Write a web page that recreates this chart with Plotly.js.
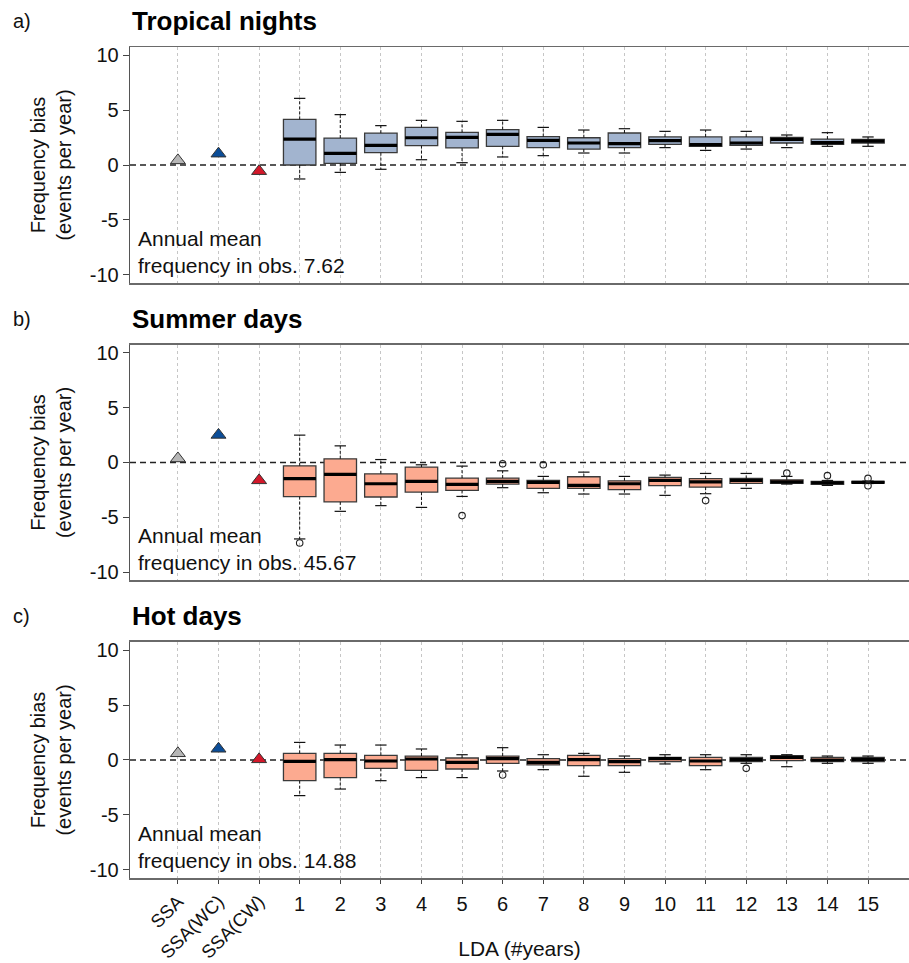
<!DOCTYPE html>
<html>
<head>
<meta charset="utf-8">
<script src="https://cdn.plot.ly/plotly-3.0.1.min.js"></script>
<style>html,body{margin:0;padding:0;background:#fff;}#chart{width:909px;height:963px;}</style>
</head>
<body>
<div id="chart"></div>
<script>
// ---------------- data ----------------
const refLabels = ['SSA', 'SSA(WC)', 'SSA(CW)'];
const ldaLabels = ['1','2','3','4','5','6','7','8','9','10','11','12','13','14','15'];
const panelLetters = ['a)', 'b)', 'c)'];
const panelTitles = ['Tropical nights', 'Summer days', 'Hot days'];
const obsMeans = ['7.62', '45.67', '14.88'];

// reference (SSA, SSA(WC), SSA(CW)) frequency bias
const tnRef = [0.42, 1.03, -0.56];
const sdRef = [0.37, 2.52, -1.63];
const hdRef = [0.61, 1.02, 0.06];

// Tropical nights – LDA box statistics
const tnLow  = [-1.27,-0.67,-0.39,0.48,0.21,0.73,0.85,1.09,1.09,1.58,1.33,1.45,1.58,1.70,1.70];
const tnQ1   = [0.00,0.15,1.12,1.76,1.55,1.70,1.58,1.45,1.58,1.88,1.70,1.79,2.00,1.88,2.00];
const tnMed  = [2.36,1.06,1.79,2.48,2.52,2.79,2.24,2.00,1.94,2.21,1.85,2.00,2.33,2.03,2.18];
const tnQ3   = [4.15,2.45,2.90,3.42,2.97,3.21,2.58,2.48,2.91,2.55,2.55,2.55,2.52,2.36,2.33];
const tnHigh = [6.06,4.58,3.58,4.06,3.97,4.06,3.42,3.18,3.30,3.06,3.18,3.06,2.73,2.94,2.55];
const tnOutLda = [];
const tnOutVal = [];

// Summer days
const sdLow  = [-6.98,-4.46,-3.94,-4.10,-3.10,-2.30,-2.76,-2.88,-2.88,-3.00,-2.85,-2.36,-1.97,-2.09,-1.92];
const sdQ1   = [-3.12,-3.60,-3.15,-2.70,-2.55,-1.97,-2.36,-2.36,-2.48,-2.12,-2.24,-1.91,-1.91,-2.00,-1.88];
const sdMed  = [-1.48,-1.09,-1.94,-1.73,-2.00,-1.73,-1.82,-2.09,-1.94,-1.64,-1.76,-1.64,-1.76,-1.85,-1.82];
const sdQ3   = [-0.30,0.34,-1.03,-0.42,-1.42,-1.42,-1.64,-1.30,-1.67,-1.36,-1.48,-1.45,-1.58,-1.73,-1.73];
const sdHigh = [2.50,1.52,0.27,-0.21,-0.33,-0.76,-1.27,-0.88,-1.27,-1.15,-1.00,-1.00,-1.27,-1.64,-1.70];
const sdOutLda = ['1','5','6','7','11','13','14','15','15'];
const sdOutVal = [-7.35,-4.85,-0.12,-0.20,-3.48,-0.97,-1.20,-1.45,-2.12];

// Hot days
const hdLow  = [-3.24,-2.64,-1.88,-1.60,-1.60,-1.00,-0.88,-1.48,-1.12,-0.36,-0.88,-0.30,-0.61,-0.30,-0.30];
const hdQ1   = [-1.88,-1.60,-0.76,-0.94,-0.82,-0.30,-0.45,-0.52,-0.52,-0.15,-0.52,-0.15,-0.06,-0.15,-0.15];
const hdMed  = [-0.12,0.03,-0.09,0.09,-0.21,0.12,-0.21,0.03,-0.15,0.12,-0.09,0.03,0.24,0.00,0.06];
const hdQ3   = [0.60,0.60,0.42,0.36,0.18,0.36,0.12,0.42,0.12,0.24,0.24,0.24,0.39,0.24,0.24];
const hdHigh = [1.60,1.36,1.36,1.00,0.48,1.12,0.48,0.60,0.36,0.48,0.48,0.48,0.48,0.36,0.36];
const hdOutLda = ['6','12'];
const hdOutVal = [-1.36,-0.76];

// ---------------- styles ----------------
const refColors = ['#b6b6b6', '#0b4d98', '#d3182a'];
const boxFills = ['#a2b4cf', '#fcaa90', '#fcaa90'];
const FONT = 'Liberation Sans, Arial, Helvetica, sans-serif';

const allLabels = refLabels.concat(ldaLabels);
const allPos = allLabels.map((_, i) => i);
const ldaPos = ldaLabels.map((_, i) => refLabels.length + i);
const posOf = lab => refLabels.length + ldaLabels.indexOf(lab);
const XR = [-1.18, 18.01];
const YR = [-10.73, 10.73];
const BOXW = 0.8, CAPW = 0.14;

function panel(k, xa, ya, ref, low, q1, med, q3, high, outLda, outVal, medXa) {
  const tr = [];
  const wx = [], wy = [], cx = [], cy = [], mx = [], my = [];
  ldaPos.forEach((p, i) => {
    wx.push(p, p, null, p, p, null);
    wy.push(q3[i], high[i], null, q1[i], low[i], null);
    cx.push(p - CAPW, p + CAPW, null, p - CAPW, p + CAPW, null);
    cy.push(high[i], high[i], null, low[i], low[i], null);
    mx.push(p - BOXW / 2, p + BOXW / 2, null);
    my.push(med[i], med[i], null);
  });
  tr.push({type: 'scatter', mode: 'lines', x: wx, y: wy, xaxis: xa, yaxis: ya,
    line: {color: '#111', width: 1, dash: '3px,2px'}, hoverinfo: 'skip'});
  tr.push({type: 'box', x: ldaPos, q1: q1, median: med, q3: q3,
    lowerfence: q1, upperfence: q3, width: BOXW, whiskerwidth: 0,
    fillcolor: boxFills[k], line: {color: '#3a3a3a', width: 1.3},
    boxpoints: false, xaxis: xa, yaxis: ya, hoverinfo: 'skip'});
  tr.push({type: 'scatter', mode: 'lines', x: cx, y: cy, xaxis: xa, yaxis: ya,
    line: {color: '#111', width: 1.2}, hoverinfo: 'skip'});
  tr.push({type: 'scatter', mode: 'lines', x: mx, y: my, xaxis: medXa || xa, yaxis: ya,
    line: {color: '#000', width: 3.2}, hoverinfo: 'skip'});
  if (outLda.length) {
    tr.push({type: 'scatter', mode: 'markers', x: outLda.map(posOf), y: outVal,
      xaxis: xa, yaxis: ya,
      marker: {symbol: 'circle-open', size: 6.5, color: '#222', line: {width: 1.1}}, hoverinfo: 'skip'});
  }
  tr.push({type: 'scatter', mode: 'markers', x: [0, 1, 2], y: ref, xaxis: xa, yaxis: ya,
    marker: {symbol: 'triangle-up', size: 13, color: refColors,
      line: {color: '#333', width: 1}}, hoverinfo: 'skip'});
  return tr;
}

const data = [].concat(
  panel(0, 'x', 'y', tnRef, tnLow, tnQ1, tnMed, tnQ3, tnHigh, tnOutLda, tnOutVal),
  panel(1, 'x2', 'y2', sdRef, sdLow, sdQ1, sdMed, sdQ3, sdHigh, sdOutLda, sdOutVal),
  panel(2, 'x3', 'y3', hdRef, hdLow, hdQ1, hdMed, hdQ3, hdHigh, hdOutLda, hdOutVal, 'x4')
);

function xaxisBase(anchor) {
  return {anchor: anchor, range: XR, tickmode: 'array', tickvals: allPos,
    ticktext: allLabels.map(() => ''), showgrid: true, gridcolor: '#c6c6c6',
    griddash: '3px,3px', gridwidth: 1, zeroline: false, showline: true, mirror: true,
    linecolor: '#6a6a6a', linewidth: 1.5, ticks: '', fixedrange: true};
}
function yaxisBase(anchor, dom) {
  return {anchor: anchor, domain: dom, range: YR, tickmode: 'array',
    tickvals: [-10, -5, 0, 5, 10], ticktext: ['-10', '-5', '0', '5', '10'],
    ticks: 'outside', ticklen: 6, tickcolor: '#444', tickwidth: 1,
    tickfont: {size: 20}, showgrid: false, zeroline: false, showline: true,
    linecolor: '#555', linewidth: 1.3, fixedrange: true,
    title: {text: 'Frequency bias<br>(events per year)', standoff: 12, font: {size: 20}}};
}

const domains = [[0.716, 1], [0.3586, 0.6414], [0, 0.284]];
const layout = {
  width: 909, height: 963,
  margin: {l: 130, r: 0, t: 47, b: 85, pad: 0},
  paper_bgcolor: '#fff', plot_bgcolor: '#fff',
  showlegend: false,
  font: {family: FONT, size: 20, color: '#111'},
  xaxis: xaxisBase('y'),
  xaxis2: xaxisBase('y2'),
  xaxis3: Object.assign(xaxisBase('y3'), {
    ticks: 'outside', ticklen: 4, tickcolor: '#444',
    ticktext: refLabels.concat(ldaLabels.map(() => '')),
    tickangle: -45, tickfont: {size: 18.5}}),
  xaxis4: {overlaying: 'x3', anchor: 'y3', range: XR, tickmode: 'array',
    tickvals: ldaPos, ticktext: ldaLabels, tickangle: 0, tickfont: {size: 20},
    showgrid: false, showline: false, zeroline: false, ticks: 'outside', ticklen: 8,
    tickcolor: 'rgba(0,0,0,0)', fixedrange: true,
    title: {text: 'LDA (#years)', standoff: 27, font: {size: 21}}},
  yaxis: yaxisBase('x', domains[0]),
  yaxis2: yaxisBase('x2', domains[1]),
  yaxis3: yaxisBase('x3', domains[2]),
  shapes: [], annotations: []
};

['', '2', '3'].forEach((s, k) => {
  layout.shapes.push({type: 'line', layer: 'below', xref: 'x' + s + ' domain', x0: 0, x1: 1,
    yref: 'y' + s, y0: 0, y1: 0, line: {color: '#222', width: 1.6, dash: '6px,4px'}});
  layout.annotations.push({xref: 'x' + s + ' domain', yref: 'y' + s + ' domain',
    x: -0.153, y: 1.11, xanchor: 'left', yanchor: 'middle', showarrow: false,
    text: panelLetters[k], font: {size: 20}});
  layout.annotations.push({xref: 'x' + s + ' domain', yref: 'y' + s + ' domain',
    x: 0.0, y: 1.11, xanchor: 'left', yanchor: 'middle', showarrow: false,
    text: '<b>' + panelTitles[k] + '</b>', font: {size: 26, color: '#000'}});
  layout.annotations.push({xref: 'x' + s + ' domain', yref: 'y' + s + ' domain',
    x: 0.008, y: 0.015, xanchor: 'left', yanchor: 'bottom', align: 'left', showarrow: false,
    text: 'Annual mean<br>frequency in obs. ' + obsMeans[k], font: {size: 21}});
});

Plotly.newPlot('chart', data, layout, {staticPlot: true, displayModeBar: false});
</script>
</body>
</html>
